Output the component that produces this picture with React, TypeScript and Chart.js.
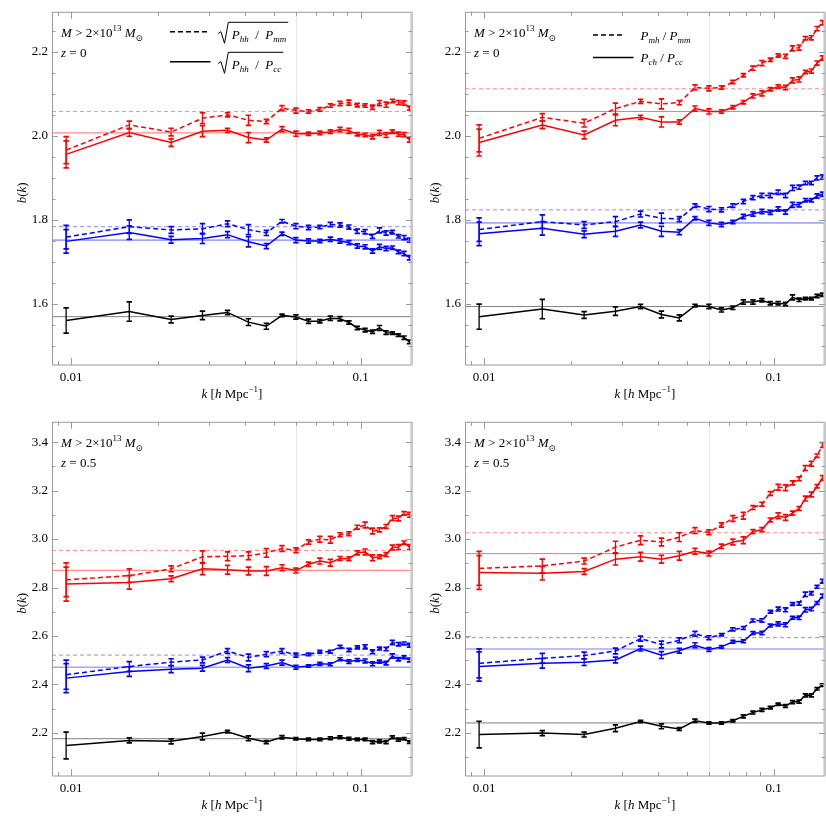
import React, { useEffect, useRef } from "react";
import { Chart, registerables } from "chart.js";

Chart.register(...registerables);

// ---------- data ----------
const kValues = [0.0096, 0.01587, 0.02214, 0.02841, 0.03468, 0.04095, 0.04722, 0.05349, 0.05976, 0.06603, 0.0723, 0.07857, 0.08484, 0.09111, 0.09738, 0.10365, 0.10992, 0.11619, 0.12246, 0.12873, 0.135, 0.14127, 0.14754];

const xTickValues = [0.01, 0.1];
const xTickLabels = ["0.01", "0.1"];
const xMinorTicks = [0.009, 0.01, 0.02, 0.03, 0.04, 0.05, 0.06, 0.07, 0.08, 0.09, 0.1];
const kCut = 0.06;

const yTicksZ0 = [1.6, 1.8, 2.0, 2.2];
const yTicksZ05 = [2.2, 2.4, 2.6, 2.8, 3.0, 3.2, 3.4];

// panel 1: sqrt(Phh/Pmm), sqrt(Phh/Pcc), z = 0
const p1RedDash = [1.966, 2.026, 2.009, 2.042, 2.05, 2.037, 2.034, 2.066, 2.06, 2.058, 2.063, 2.072, 2.077, 2.079, 2.073, 2.072, 2.068, 2.078, 2.074, 2.083, 2.079, 2.078, 2.066];
const p1RedSolid = [1.956, 2.008, 1.984, 2.011, 2.013, 1.996, 1.99, 2.016, 2.005, 2.005, 2.007, 2.01, 2.015, 2.012, 2.004, 2.002, 1.998, 2.007, 2.002, 2.01, 2.004, 2.003, 1.99];
const p1BlueDash = [1.759, 1.784, 1.776, 1.779, 1.791, 1.777, 1.769, 1.797, 1.785, 1.782, 1.783, 1.789, 1.788, 1.783, 1.773, 1.772, 1.761, 1.775, 1.769, 1.771, 1.761, 1.758, 1.752];
const p1BlueSolid = [1.749, 1.77, 1.753, 1.756, 1.765, 1.748, 1.738, 1.767, 1.752, 1.75, 1.75, 1.754, 1.75, 1.746, 1.738, 1.736, 1.726, 1.736, 1.732, 1.734, 1.724, 1.72, 1.71];
const p1Black = [1.561, 1.582, 1.563, 1.573, 1.58, 1.557, 1.547, 1.573, 1.569, 1.559, 1.559, 1.566, 1.565, 1.556, 1.543, 1.538, 1.534, 1.543, 1.532, 1.531, 1.526, 1.52, 1.51];
const p1Refs = [2.058, 2.007, 1.784, 1.752, 1.57];

// panel 2: Pmh/Pmm, Pch/Pcc, z = 0
const p2RedDash = [1.994, 2.044, 2.03, 2.065, 2.082, 2.076, 2.079, 2.115, 2.113, 2.115, 2.128, 2.144, 2.161, 2.173, 2.181, 2.191, 2.189, 2.208, 2.21, 2.232, 2.233, 2.255, 2.269];
const p2RedSolid = [1.984, 2.026, 2.002, 2.037, 2.044, 2.033, 2.033, 2.065, 2.058, 2.058, 2.068, 2.08, 2.095, 2.101, 2.111, 2.117, 2.115, 2.132, 2.134, 2.152, 2.154, 2.173, 2.185];
const p2BlueDash = [1.777, 1.796, 1.788, 1.796, 1.814, 1.804, 1.802, 1.834, 1.826, 1.824, 1.834, 1.844, 1.853, 1.858, 1.858, 1.866, 1.858, 1.876, 1.878, 1.888, 1.888, 1.9, 1.902];
const p2BlueSolid = [1.767, 1.78, 1.766, 1.773, 1.788, 1.773, 1.771, 1.804, 1.793, 1.789, 1.795, 1.808, 1.814, 1.82, 1.818, 1.826, 1.819, 1.836, 1.836, 1.847, 1.847, 1.857, 1.861];
const p2Black = [1.57, 1.588, 1.574, 1.583, 1.594, 1.575, 1.567, 1.596, 1.594, 1.586, 1.591, 1.605, 1.605, 1.609, 1.602, 1.602, 1.6, 1.616, 1.61, 1.613, 1.613, 1.619, 1.622];
const p2Refs = [2.112, 2.058, 1.824, 1.793, 1.594];

// panel 3: sqrt ratios, z = 0.5
const p3RedDash = [2.832, 2.849, 2.877, 2.927, 2.929, 2.931, 2.943, 2.961, 2.954, 2.988, 2.999, 2.997, 3.018, 3.022, 3.049, 3.058, 3.033, 3.038, 3.052, 3.087, 3.085, 3.106, 3.1];
const p3RedSolid = [2.814, 2.821, 2.836, 2.877, 2.873, 2.868, 2.868, 2.882, 2.87, 2.896, 2.909, 2.902, 2.92, 2.919, 2.943, 2.947, 2.923, 2.927, 2.936, 2.965, 2.967, 2.985, 2.967];
const p3BlueDash = [2.44, 2.474, 2.492, 2.501, 2.538, 2.511, 2.525, 2.538, 2.521, 2.524, 2.535, 2.535, 2.555, 2.542, 2.553, 2.555, 2.535, 2.548, 2.546, 2.573, 2.566, 2.569, 2.562];
const p3BlueSolid = [2.426, 2.453, 2.463, 2.467, 2.501, 2.467, 2.476, 2.49, 2.471, 2.476, 2.485, 2.483, 2.504, 2.494, 2.501, 2.497, 2.485, 2.494, 2.488, 2.517, 2.504, 2.512, 2.501];
const p3Black = [2.148, 2.169, 2.165, 2.185, 2.205, 2.178, 2.162, 2.182, 2.176, 2.173, 2.173, 2.178, 2.182, 2.176, 2.173, 2.173, 2.162, 2.165, 2.162, 2.182, 2.172, 2.176, 2.162];
const p3Refs = [2.953, 2.871, 2.521, 2.471, 2.176];

// panel 4: cross ratios, z = 0.5
const p4RedDash = [2.879, 2.889, 2.909, 2.967, 2.995, 2.988, 3.008, 3.035, 3.028, 3.058, 3.085, 3.096, 3.13, 3.144, 3.188, 3.214, 3.212, 3.232, 3.249, 3.293, 3.311, 3.344, 3.388];
const p4RedSolid = [2.862, 2.859, 2.866, 2.917, 2.927, 2.917, 2.931, 2.95, 2.94, 2.97, 2.988, 2.995, 3.031, 3.039, 3.079, 3.096, 3.089, 3.107, 3.126, 3.167, 3.184, 3.218, 3.252];
const p4BlueDash = [2.487, 2.508, 2.519, 2.538, 2.589, 2.565, 2.582, 2.609, 2.593, 2.605, 2.627, 2.633, 2.664, 2.664, 2.7, 2.711, 2.708, 2.732, 2.734, 2.772, 2.776, 2.803, 2.826];
const p4BlueSolid = [2.474, 2.487, 2.492, 2.501, 2.548, 2.521, 2.539, 2.562, 2.544, 2.555, 2.576, 2.578, 2.612, 2.612, 2.643, 2.65, 2.646, 2.675, 2.675, 2.708, 2.711, 2.736, 2.765];
const p4Black = [2.193, 2.199, 2.193, 2.219, 2.247, 2.227, 2.216, 2.25, 2.241, 2.241, 2.25, 2.268, 2.284, 2.295, 2.304, 2.318, 2.311, 2.327, 2.329, 2.355, 2.355, 2.382, 2.397];
const p4Refs = [3.026, 2.94, 2.593, 2.546, 2.241];

// error bar half-widths
const errZ0Red = [0.032, 0.009, 0.009, 0.013, 0.005, 0.012, 0.005, 0.006, 0.006, 0.004, 0.004, 0.004, 0.005, 0.006, 0.004, 0.004, 0.005, 0.006, 0.006, 0.004, 0.005, 0.005, 0.005];
const errZ0Blue = [0.028, 0.016, 0.008, 0.012, 0.007, 0.012, 0.006, 0.004, 0.006, 0.005, 0.004, 0.005, 0.005, 0.005, 0.005, 0.005, 0.005, 0.006, 0.005, 0.004, 0.004, 0.005, 0.005];
const errZ0Black = [0.03, 0.023, 0.008, 0.01, 0.005, 0.008, 0.007, 0.003, 0.005, 0.005, 0.004, 0.005, 0.005, 0.004, 0.004, 0.004, 0.004, 0.006, 0.004, 0.003, 0.003, 0.004, 0.004];
const errZ05Red = [0.07, 0.028, 0.012, 0.024, 0.018, 0.016, 0.018, 0.012, 0.01, 0.009, 0.012, 0.014, 0.008, 0.008, 0.008, 0.012, 0.012, 0.008, 0.008, 0.01, 0.01, 0.007, 0.01];
const errZ05Blue = [0.06, 0.02, 0.014, 0.012, 0.01, 0.014, 0.01, 0.01, 0.008, 0.005, 0.006, 0.006, 0.006, 0.007, 0.006, 0.008, 0.008, 0.006, 0.007, 0.009, 0.007, 0.006, 0.008];
const errZ05Black = [0.055, 0.01, 0.01, 0.014, 0.005, 0.01, 0.006, 0.007, 0.005, 0.005, 0.005, 0.006, 0.006, 0.006, 0.005, 0.005, 0.006, 0.006, 0.006, 0.006, 0.006, 0.005, 0.005];

// ---------- styling ----------
const X_MIN = 0.00858;
const X_MAX = 0.1505;
const FONT = '"Liberation Serif", "Times New Roman", "DejaVu Serif", serif';
const RED = "#ff0000";
const BLUE = "#0000ff";
const BLACK = "#000000";
const REF_COLORS = ["#ff8c8c", "#ff6f6f", "#8c8cff", "#a3a8ff", "#808080"];
const REF_DASHED = [true, false, true, false, false];
const REF_WIDTHS = [1, 1, 1, 1.6, 1];
const FRAME = "#9a9a9a";

type Seg = { t: string; it?: boolean; sz?: number; dy?: number };

function setFont(ctx: CanvasRenderingContext2D, s: Seg, base: number) {
  ctx.font = `${s.it ? "italic " : ""}${s.sz ?? base}px ${FONT}`;
}
function measureRich(ctx: CanvasRenderingContext2D, segs: Seg[], base = 13) {
  let w = 0;
  for (const s of segs) {
    setFont(ctx, s, base);
    w += ctx.measureText(s.t).width;
  }
  return w;
}
function drawRich(ctx: CanvasRenderingContext2D, x: number, y: number, segs: Seg[], base = 13) {
  let cx = x;
  ctx.textAlign = "left";
  ctx.textBaseline = "alphabetic";
  for (const s of segs) {
    setFont(ctx, s, base);
    ctx.fillText(s.t, cx, y + (s.dy ?? 0));
    cx += ctx.measureText(s.t).width;
  }
  return cx - x;
}
function drawSqrt(ctx: CanvasRenderingContext2D, x: number, baseline: number, segs: Seg[]) {
  const w = measureRich(ctx, segs);
  const top = baseline - 16.2;
  const bottom = baseline + 4.8;
  ctx.save();
  ctx.strokeStyle = "#000";
  ctx.lineWidth = 1;
  ctx.beginPath();
  ctx.moveTo(x, baseline - 5);
  ctx.lineTo(x + 2.6, baseline - 6.8);
  ctx.lineTo(x + 6.2, bottom);
  ctx.lineTo(x + 10, top);
  ctx.lineTo(x + 14 + w + 1.5, top);
  ctx.stroke();
  ctx.restore();
  drawRich(ctx, x + 13.4, baseline, segs);
}
function legendLine(ctx: CanvasRenderingContext2D, x1: number, x2: number, y: number, dashed: boolean) {
  ctx.save();
  ctx.strokeStyle = "#000";
  ctx.lineWidth = 1.4;
  ctx.setLineDash(dashed ? [5, 3] : []);
  ctx.beginPath();
  ctx.moveTo(x1, y);
  ctx.lineTo(x2, y);
  ctx.stroke();
  ctx.restore();
}

const massSegs: Seg[] = [
  { t: "M", it: true },
  { t: " > 2×10" },
  { t: "13", sz: 9, dy: -6 },
  { t: " " },
  { t: "M", it: true },
  { t: "⊙", sz: 9, dy: 4 },
];

type SeriesCfg = { values: number[]; color: string; dashed: boolean; errors: number[] };
type PanelCfg = {
  left: number;
  top: number;
  yMin: number;
  yMax: number;
  yTicks: number[];
  yStep: number;
  zText: string;
  legend: "sqrt" | "plain" | "none";
  series: SeriesCfg[];
  refs: number[];
  padTop: number;
  xAxisH: number;
};

const panels: PanelCfg[] = [
  {
    left: 0, top: 0, yMin: 1.455, yMax: 2.295, yTicks: yTicksZ0, yStep: 0.05, zText: "0", legend: "sqrt",
    series: [
      { values: p1RedDash, color: RED, dashed: true, errors: errZ0Red },
      { values: p1RedSolid, color: RED, dashed: false, errors: errZ0Red },
      { values: p1BlueDash, color: BLUE, dashed: true, errors: errZ0Blue },
      { values: p1BlueSolid, color: BLUE, dashed: false, errors: errZ0Blue },
      { values: p1Black, color: BLACK, dashed: false, errors: errZ0Black },
    ],
    refs: p1Refs, padTop: 6, xAxisH: 45,
  },
  {
    left: 413, top: 0, yMin: 1.455, yMax: 2.295, yTicks: yTicksZ0, yStep: 0.05, zText: "0", legend: "plain",
    series: [
      { values: p2RedDash, color: RED, dashed: true, errors: errZ0Red },
      { values: p2RedSolid, color: RED, dashed: false, errors: errZ0Red },
      { values: p2BlueDash, color: BLUE, dashed: true, errors: errZ0Blue },
      { values: p2BlueSolid, color: BLUE, dashed: false, errors: errZ0Blue },
      { values: p2Black, color: BLACK, dashed: false, errors: errZ0Black },
    ],
    refs: p2Refs, padTop: 6, xAxisH: 45,
  },
  {
    left: 0, top: 410, yMin: 2.022, yMax: 3.484, yTicks: yTicksZ05, yStep: 0.1, zText: "0.5", legend: "none",
    series: [
      { values: p3RedDash, color: RED, dashed: true, errors: errZ05Red },
      { values: p3RedSolid, color: RED, dashed: false, errors: errZ05Red },
      { values: p3BlueDash, color: BLUE, dashed: true, errors: errZ05Blue },
      { values: p3BlueSolid, color: BLUE, dashed: false, errors: errZ05Blue },
      { values: p3Black, color: BLACK, dashed: false, errors: errZ05Black },
    ],
    refs: p3Refs, padTop: 7, xAxisH: 44,
  },
  {
    left: 413, top: 410, yMin: 2.022, yMax: 3.484, yTicks: yTicksZ05, yStep: 0.1, zText: "0.5", legend: "none",
    series: [
      { values: p4RedDash, color: RED, dashed: true, errors: errZ05Red },
      { values: p4RedSolid, color: RED, dashed: false, errors: errZ05Red },
      { values: p4BlueDash, color: BLUE, dashed: true, errors: errZ05Blue },
      { values: p4BlueSolid, color: BLUE, dashed: false, errors: errZ05Blue },
      { values: p4Black, color: BLACK, dashed: false, errors: errZ05Black },
    ],
    refs: p4Refs, padTop: 7, xAxisH: 44,
  },
];

function buildConfig(p: PanelCfg): any {
  const datasets: any[] = [];
  p.series.forEach((s) => {
    datasets.push({
      data: kValues.map((k, i) => ({ x: k, y: s.values[i] })),
      borderColor: s.color,
      borderWidth: 1.5,
      borderDash: s.dashed ? [5, 3] : [],
      pointRadius: 0,
      tension: 0,
      fill: false,
      order: 0,
      errors: s.errors,
    });
  });
  p.refs.forEach((r, i) => {
    datasets.push({
      data: [{ x: X_MIN, y: r }, { x: X_MAX, y: r }],
      borderColor: REF_COLORS[i],
      borderWidth: REF_WIDTHS[i],
      borderDash: REF_DASHED[i] ? [4, 3] : [],
      pointRadius: 0,
      tension: 0,
      fill: false,
      order: 1,
    });
  });

  const cutPlugin = {
    id: "cutLine",
    beforeDatasetsDraw(chart: any) {
      const { ctx, chartArea } = chart;
      const x = chart.scales.x.getPixelForValue(kCut);
      ctx.save();
      ctx.strokeStyle = "#e4e4e4";
      ctx.lineWidth = 1;
      ctx.beginPath();
      ctx.moveTo(x, chartArea.top);
      ctx.lineTo(x, chartArea.bottom);
      ctx.stroke();
      ctx.restore();
    },
  };

  const errorPlugin = {
    id: "errorBars",
    afterDatasetsDraw(chart: any) {
      const { ctx } = chart;
      const ys = chart.scales.y;
      ctx.save();
      ctx.beginPath();
      ctx.rect(chart.chartArea.left, chart.chartArea.top, chart.chartArea.right - chart.chartArea.left, chart.chartArea.bottom - chart.chartArea.top);
      ctx.clip();
      chart.data.datasets.forEach((ds: any, di: number) => {
        if (!ds.errors) return;
        const meta = chart.getDatasetMeta(di);
        ctx.strokeStyle = ds.borderColor;
        ctx.setLineDash([]);
        meta.data.forEach((el: any, i: number) => {
          const v = ds.data[i].y;
          const e = ds.errors[i];
          const x = el.x;
          const y1 = ys.getPixelForValue(v + e);
          const y2 = ys.getPixelForValue(v - e);
          ctx.lineWidth = 1.3;
          ctx.beginPath();
          ctx.moveTo(x, y1);
          ctx.lineTo(x, y2);
          ctx.stroke();
          ctx.lineWidth = 1.7;
          ctx.beginPath();
          ctx.moveTo(x - 2.7, y1);
          ctx.lineTo(x + 2.7, y1);
          ctx.moveTo(x - 2.7, y2);
          ctx.lineTo(x + 2.7, y2);
          ctx.stroke();
        });
      });
      ctx.restore();
    },
  };

  const framePlugin = {
    id: "frame",
    afterDraw(chart: any) {
      const { ctx, chartArea } = chart;
      const { left, right, top, bottom } = chartArea;
      const xs = chart.scales.x;
      const ys = chart.scales.y;
      ctx.save();
      ctx.strokeStyle = FRAME;
      ctx.lineWidth = 1;
      ctx.setLineDash([]);
      ctx.beginPath();
      ctx.moveTo(left + 0.5, top + 0.5);
      ctx.lineTo(right, top + 0.5);
      ctx.moveTo(left + 0.5, top);
      ctx.lineTo(left + 0.5, bottom);
      ctx.lineTo(right, bottom);
      ctx.stroke();
      // right edge: lighter, thicker
      ctx.strokeStyle = "#c8c8c8";
      ctx.lineWidth = 2.6;
      ctx.beginPath();
      ctx.moveTo(right - 0.3, top);
      ctx.lineTo(right - 0.3, bottom);
      ctx.stroke();
      ctx.strokeStyle = FRAME;
      ctx.lineWidth = 1;
      // y ticks
      const n0 = Math.ceil(p.yMin / p.yStep - 1e-6);
      const n1 = Math.floor(p.yMax / p.yStep + 1e-6);
      ctx.beginPath();
      for (let n = n0; n <= n1; n++) {
        const v = n * p.yStep;
        const major = p.yTicks.some((t) => Math.abs(t - v) < 1e-6);
        const len = major ? 6 : 3.5;
        const y = Math.round(ys.getPixelForValue(v)) + 0.5;
        ctx.moveTo(left, y);
        ctx.lineTo(left + len, y);
        ctx.moveTo(right, y);
        ctx.lineTo(right - len, y);
      }
      // x ticks
      xMinorTicks.forEach((v) => {
        const major = xTickValues.some((t) => Math.abs(t - v) < 1e-9);
        const len = major ? 7 : 4;
        const x = Math.round(xs.getPixelForValue(v)) + 0.5;
        ctx.moveTo(x, bottom);
        ctx.lineTo(x, bottom - len);
        ctx.moveTo(x, top);
        ctx.lineTo(x, top + len);
      });
      ctx.stroke();
      ctx.restore();

      // axis titles
      ctx.save();
      ctx.fillStyle = "#000";
      const xt: Seg[] = [
        { t: "k", it: true },
        { t: " [" },
        { t: "h", it: true },
        { t: " Mpc" },
        { t: "−1", sz: 9, dy: -6 },
        { t: "]" },
      ];
      const xw = measureRich(ctx, xt);
      drawRich(ctx, (left + right) / 2 - xw / 2, bottom + 33, xt);
      const yt: Seg[] = [{ t: "b", it: true }, { t: "(" }, { t: "k", it: true }, { t: ")" }];
      const yw = measureRich(ctx, yt);
      ctx.translate(26, (top + bottom) / 2 + 4.5);
      ctx.rotate(-Math.PI / 2);
      drawRich(ctx, -yw / 2, 0, yt);
      ctx.restore();

      // annotation text
      ctx.save();
      ctx.fillStyle = "#000";
      drawRich(ctx, 61, 36.5, massSegs);
      drawRich(ctx, 61, 57, [{ t: "z", it: true }, { t: " = " + p.zText }]);
      if (p.legend === "sqrt") {
        legendLine(ctx, 170, 209.5, 31.7, true);
        legendLine(ctx, 170, 210.5, 61.7, false);
        drawSqrt(ctx, 218.3, 38.5, [
          { t: "P", it: true },
          { t: "hh", it: true, sz: 9, dy: 3 },
          { t: "  /  " },
          { t: "P", it: true },
          { t: "mm", it: true, sz: 9, dy: 3 },
        ]);
        drawSqrt(ctx, 218.3, 68.5, [
          { t: "P", it: true },
          { t: "hh", it: true, sz: 9, dy: 3 },
          { t: "  /  " },
          { t: "P", it: true },
          { t: "cc", it: true, sz: 9, dy: 3 },
        ]);
      } else if (p.legend === "plain") {
        legendLine(ctx, 180, 209, 35, true);
        legendLine(ctx, 180, 220.5, 57.5, false);
        drawRich(ctx, 227.5, 39.5, [
          { t: "P", it: true },
          { t: "mh", it: true, sz: 9, dy: 3 },
          { t: " / " },
          { t: "P", it: true },
          { t: "mm", it: true, sz: 9, dy: 3 },
        ]);
        drawRich(ctx, 227.5, 62, [
          { t: "P", it: true },
          { t: "ch", it: true, sz: 9, dy: 3 },
          { t: " / " },
          { t: "P", it: true },
          { t: "cc", it: true, sz: 9, dy: 3 },
        ]);
      }
      ctx.restore();
    },
  };

  const tickFont = { family: FONT, size: 13 };

  return {
    type: "line",
    data: { datasets },
    options: {
      animation: false,
      responsive: false,
      events: [],
      parsing: true,
      layout: { padding: { left: 0, right: 1, top: p.padTop, bottom: 0 } },
      plugins: { legend: { display: false }, tooltip: { enabled: false } },
      scales: {
        x: {
          type: "logarithmic",
          min: X_MIN,
          max: X_MAX,
          grid: { display: false, drawTicks: false },
          border: { display: false },
          ticks: {
            font: tickFont,
            color: "#000",
            padding: 5,
            maxRotation: 0,
            autoSkip: false,
            callback: (_v: any, i: number) => xTickLabels[i],
          },
          afterBuildTicks: (s: any) => {
            s.ticks = xTickValues.map((v) => ({ value: v }));
          },
          afterFit: (s: any) => {
            s.height = p.xAxisH;
          },
        },
        y: {
          type: "linear",
          min: p.yMin,
          max: p.yMax,
          grid: { display: false, drawTicks: false },
          border: { display: false },
          ticks: {
            font: tickFont,
            color: "#000",
            padding: 4,
            autoSkip: false,
            callback: (v: any) => Number(v).toFixed(1),
          },
          afterBuildTicks: (s: any) => {
            s.ticks = p.yTicks.map((v) => ({ value: v }));
          },
          afterFit: (s: any) => {
            s.width = 52;
          },
        },
      },
    },
    plugins: [cutPlugin, errorPlugin, framePlugin],
  };
}

function Panel({ cfg }: { cfg: PanelCfg }) {
  const ref = useRef<HTMLCanvasElement>(null);
  useEffect(() => {
    if (!ref.current) return;
    const chart = new Chart(ref.current, buildConfig(cfg));
    return () => chart.destroy();
  }, [cfg]);
  return (
    <canvas
      ref={ref}
      width={413}
      height={410}
      style={{ position: "absolute", left: cfg.left, top: cfg.top, width: 413, height: 410 }}
    />
  );
}

export default function App() {
  useEffect(() => {
    document.body.style.margin = "0";
    document.body.style.background = "#fff";
  }, []);
  return (
    <div style={{ position: "relative", width: 826, height: 820, background: "#fff" }}>
      {panels.map((p, i) => (
        <Panel key={i} cfg={p} />
      ))}
    </div>
  );
}
